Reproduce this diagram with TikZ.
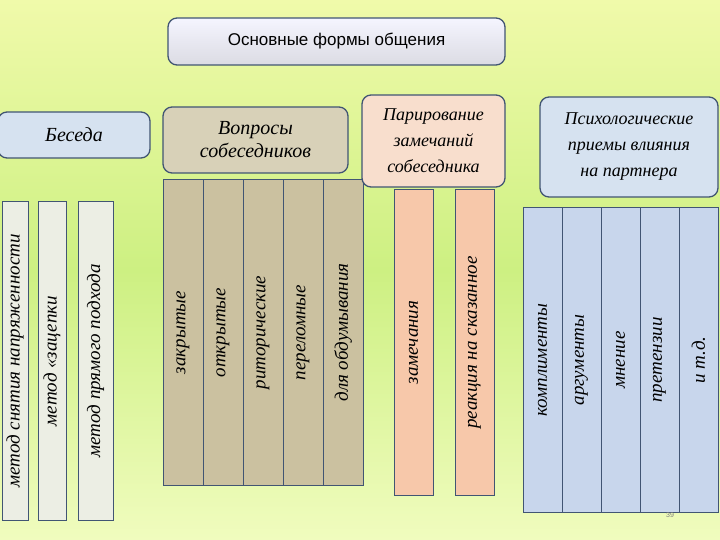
\documentclass[tikz,border=0pt]{standalone}
\usepackage{fontspec}
\setmainfont{Liberation Serif}
\newfontfamily\titlefont{Liberation Sans}
\definecolor{bord}{RGB}{65,85,115}
\definecolor{tan}{RGB}{203,193,160}
\definecolor{peach}{RGB}{247,200,170}
\definecolor{peachl}{RGB}{248,222,205}
\definecolor{bluec}{RGB}{200,214,236}
\definecolor{blueh}{RGB}{214,226,240}
\definecolor{greyc}{RGB}{236,238,228}
\definecolor{bgtop}{RGB}{240,250,170}
\definecolor{bgmid}{RGB}{205,240,130}
\definecolor{bgbot}{RGB}{240,252,190}
\begin{document}
\begin{tikzpicture}[x=1pt,y=-1pt,
  hdr/.style={draw=bord,line width=1.3pt,rounded corners=9pt,align=center,font=\itshape\fontsize{20}{23}\selectfont,inner sep=0pt},
  col/.style={draw=bord,line width=1pt,inner sep=0pt},
  ctext/.style={rotate=90,font=\itshape\fontsize{19}{21}\selectfont}]
\useasboundingbox (0,0) rectangle (720,540);
\shade[top color=bgtop, bottom color=bgbot, middle color=bgmid] (0,0) rectangle (720,540);
\node[hdr,top color=blue!4,bottom color=blue!12!gray!25,minimum width=337pt,minimum height=47pt,font=\titlefont\fontsize{17}{19}\selectfont] (t) at (336.5,41.5) {Основные формы общения};
\node[hdr,fill=blueh,minimum width=152pt,minimum height=46pt] (b) at (74,135) {Беседа};
\foreach \n/\a/\b/\txt in {b1/2/28/метод снятия напряженности, b2/38/66/{метод «зацепки}, b3/78/113/метод прямого подхода}{
  \node[col,fill=greyc,minimum width={(\b-\a)*1pt},minimum height=318pt] (\n) at ({(\a+\b)/2},361) {};
  \node[ctext] (\n t) at (\n) {\txt};}
\node[hdr,fill=tan!75!white,minimum width=185pt,minimum height=66pt] (v) at (255.5,140) {Вопросы\\собеседников};
\foreach \n/\a/\txt in {v1/163/закрытые, v2/203/открытые, v3/243/риторические, v4/283/переломные, v5/323/для обдумывания}{
  \node[col,fill=tan,minimum width=40pt,minimum height=305pt] (\n) at ({\a+20},332.5) {};
  \node[ctext] (\n t) at (\n) {\txt};}
\node[hdr,fill=peachl,minimum width=143pt,minimum height=92pt,font=\itshape\fontsize{18}{26}\selectfont] (p) at (433.5,141) {Парирование\\замечаний\\собеседника};
\foreach \n/\a/\b/\txt in {p1/394/433/замечания, p2/455/494/реакция на сказанное}{
  \node[col,fill=peach,minimum width={(\b-\a)*1pt},minimum height=305pt] (\n) at ({(\a+\b)/2},342.5) {};
  \node[ctext] (\n t) at (\n) {\txt};}
\node[hdr,fill=blueh,minimum width=178pt,minimum height=100pt,font=\itshape\fontsize{18}{26}\selectfont] (q) at (629,147) {Психологические\\приемы влияния\\на партнера};
\foreach \n/\a/\txt in {q1/523/комплименты, q2/562/аргументы, q3/601/мнение, q4/640/претензии, q5/679/и т.д.}{
  \node[col,fill=bluec,minimum width=39pt,minimum height=304pt] (\n) at ({\a+19.5},360) {};
  \node[ctext] (\n t) at (\n) {\txt};}
\node[font=\titlefont\fontsize{7}{8}\selectfont,text=gray] (pg) at (670,515) {39};
\end{tikzpicture}
\end{document}
